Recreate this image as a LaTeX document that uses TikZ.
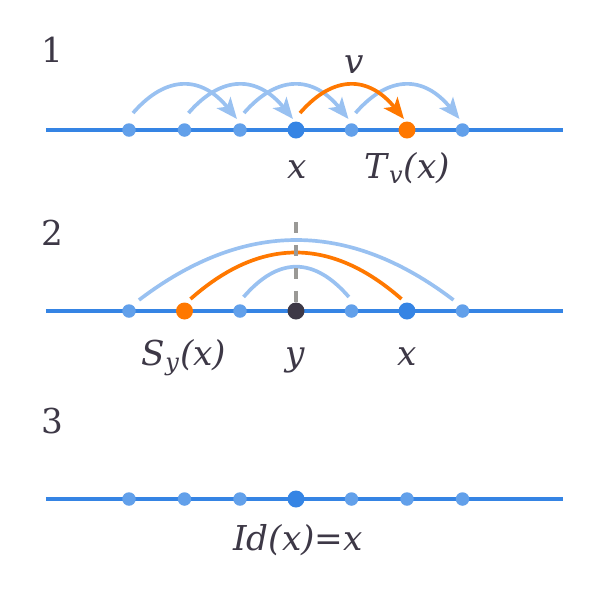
\documentclass[tikz,border=0pt]{standalone}
\usepackage{fontspec}
\setmainfont{DejaVu Serif}
\usetikzlibrary{calc,arrows.meta}
\definecolor{lineblue}{HTML}{3584E4}
\definecolor{ptblue}{HTML}{62A0EA}
\definecolor{arcblue}{HTML}{99C1F1}
\definecolor{orng}{HTML}{FF7800}
\definecolor{darkpt}{HTML}{3D3846}
\definecolor{dashgray}{HTML}{9A9996}
\definecolor{txt}{HTML}{3D3846}
\begin{document}
\begin{tikzpicture}[x=0.02cm,y=-0.02cm,
	pt/.style={circle,inner sep=0pt,minimum size=0.27cm,fill=ptblue},
	bigpt/.style={circle,inner sep=0pt,minimum size=0.34cm,fill=#1},
	numline/.style={lineblue,line width=2pt},
	hop/.style={arcblue,line width=2.1pt,-{Stealth[length=12pt,width=10pt,inset=3pt]}},
	refl/.style={arcblue,line width=2.1pt},
	lbl/.style={anchor=base,inner sep=0pt,text=txt,font=\fontsize{19.5}{23}\selectfont}]
		\useasboundingbox (0,0) rectangle (600,600);
		\node[lbl] (n1) at (52,62) {1};
		\node[lbl] (n2) at (52,245) {2};
		\node[lbl] (n3) at (52,433) {3};
		\draw[numline] (46,130) -- (563,130);
		\draw[numline] (46,311) -- (563,311);
		\draw[numline] (46,499) -- (563,499);
		\node[pt] (a1) at (129,130) {};
		\node[pt] (a2) at (184.5,130) {};
		\node[pt] (a3) at (240,130) {};
		\node[bigpt=lineblue] (a4) at (296,130) {};
		\node[pt] (a5) at (351.5,130) {};
		\node[bigpt=orng] (a6) at (407,130) {};
		\node[pt] (a7) at (462.5,130) {};
		\draw[hop] ($(a1)+(4,-17)$) .. controls ($(a1)+(38,-56)$) and ($(a3)+(-38,-54)$) .. ($(a3)+(-3,-11)$);
		\draw[hop] ($(a2)+(4,-17)$) .. controls ($(a2)+(38,-56)$) and ($(a4)+(-38,-54)$) .. ($(a4)+(-3,-11)$);
		\draw[hop] ($(a3)+(4,-17)$) .. controls ($(a3)+(38,-56)$) and ($(a5)+(-38,-54)$) .. ($(a5)+(-3,-11)$);
		\draw[hop] ($(a5)+(4,-17)$) .. controls ($(a5)+(38,-56)$) and ($(a7)+(-38,-54)$) .. ($(a7)+(-3,-11)$);
		\draw[hop,orng] ($(a4)+(4,-17)$) .. controls ($(a4)+(38,-56)$) and ($(a6)+(-38,-54)$) .. ($(a6)+(-3,-11)$);
		\node[lbl] (lv) at (354,73) {\textit{v}};
		\node[lbl] (lx) at (297,178) {\textit{x}};
		\node[lbl] (lt) at (407,178) {\textit{T}\textsubscript{\textit{v}}\textit{(x)}};
		\node[pt] (b1) at (129,311) {};
		\node[bigpt=orng] (b2) at (184.5,311) {};
		\node[pt] (b3) at (240,311) {};
		\node[bigpt=darkpt] (b4) at (296,311) {};
		\node[pt] (b5) at (351.5,311) {};
		\node[bigpt=lineblue] (b6) at (407,311) {};
		\node[pt] (b7) at (462.5,311) {};
		\draw[refl] ($(b1)+(10,-11)$) .. controls ($(b1)+(115,-91)$) and ($(b7)+(-114,-91)$) .. ($(b7)+(-9,-11)$);
		\draw[refl,orng] ($(b2)+(6,-12)$) .. controls ($(b2)+(76,-74)$) and ($(b6)+(-76,-74)$) .. ($(b6)+(-5.5,-12)$);
		\draw[refl] ($(b3)+(3.6,-14)$) .. controls ($(b3)+(38.5,-54.4)$) and ($(b5)+(-37.5,-54.4)$) .. ($(b5)+(-2.6,-14)$);
		\coordinate (axtop) at (296,222);
		\draw[dashgray,line width=2pt,dash pattern=on 0.22cm off 0.24cm] (axtop) -- (b4.north);
		\node[lbl] (ls) at (184,365) {\textit{S}\textsubscript{\textit{y}}\textit{(x)}};
		\node[lbl] (ly) at (295,365) {\textit{y}};
		\node[lbl] (lx2) at (407.5,365) {\textit{x}};
		\node[pt] (c1) at (129,499) {};
		\node[pt] (c2) at (184.5,499) {};
		\node[pt] (c3) at (240,499) {};
		\node[bigpt=lineblue] (c4) at (296,499) {};
		\node[pt] (c5) at (351.5,499) {};
		\node[pt] (c6) at (407,499) {};
		\node[pt] (c7) at (462.5,499) {};
		\node[lbl] (lid) at (298,550) {\textit{Id(x)=x}};
	\end{tikzpicture}
\end{document}
